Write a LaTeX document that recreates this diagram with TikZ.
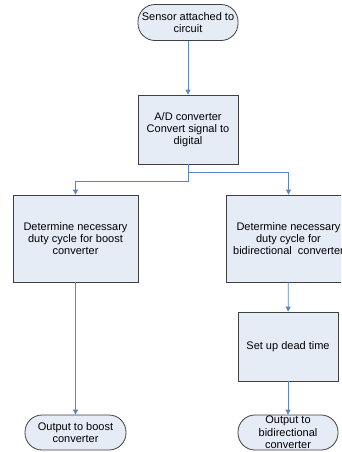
\documentclass[tikz,border=0pt]{standalone}
\usepackage{fontspec}
\setmainfont{Liberation Sans}
\usetikzlibrary{arrows.meta}
\definecolor{fillc}{HTML}{E6ECF6}
\definecolor{edgec}{HTML}{404040}
\definecolor{linec}{HTML}{5A86C6}
\begin{document}
\begin{tikzpicture}[x=1pt,y=-1pt,
  box/.style={draw=edgec, fill=fillc, line width=0.8pt, align=center,
    font=\fontsize{11}{12.3}\selectfont, inner sep=0pt},
  term/.style={box, rounded corners=17pt},
  conn/.style={draw=linec, line width=0.8pt},
  arr/.style={conn, -{Triangle[width=5pt,length=5pt]}}]
\useasboundingbox (0,0) rectangle (341,452);
\clip (0,0) rectangle (341,452);
\fill[white] (0,0) rectangle (341,452);
\node[term, minimum width=100pt, minimum height=36pt] (sensor) at (188,22.5) {Sensor attached to\\circuit};
\node[box, minimum width=100pt, minimum height=69pt] (ad) at (188,129.5) {A/D converter\\Convert signal to\\digital};
\node[box, minimum width=125pt, minimum height=87pt] (boost) at (75.5,238.5) {Determine necessary\\duty cycle for boost\\converter};
\node[box, minimum width=125pt, minimum height=87pt] (bidir) at (288.5,238.5) {Determine necessary\\duty cycle for\\bidirectional\ \ converter};
\node[box, minimum width=100pt, minimum height=69pt] (dead) at (288,346.5) {Set up dead time};
\node[term, minimum width=101pt, minimum height=35pt] (outb) at (75.5,432.5) {Output to boost\\converter};
\node[term, minimum width=100pt, minimum height=35pt] (outbi) at (288,432.5) {Output to\\bidirectional\\converter};
\coordinate (jl) at (188,181);
\coordinate (jr) at (188,172);
\draw[arr] (sensor) -- (ad);
\draw[arr] (ad.south) -- (jl) -| (boost.north);
\draw[arr] (jr) -| (bidir.north);
\draw[arr] (boost) -- (outb);
\draw[arr] (bidir) -- (dead);
\draw[arr] (dead) -- (outbi);
\end{tikzpicture}
\end{document}
